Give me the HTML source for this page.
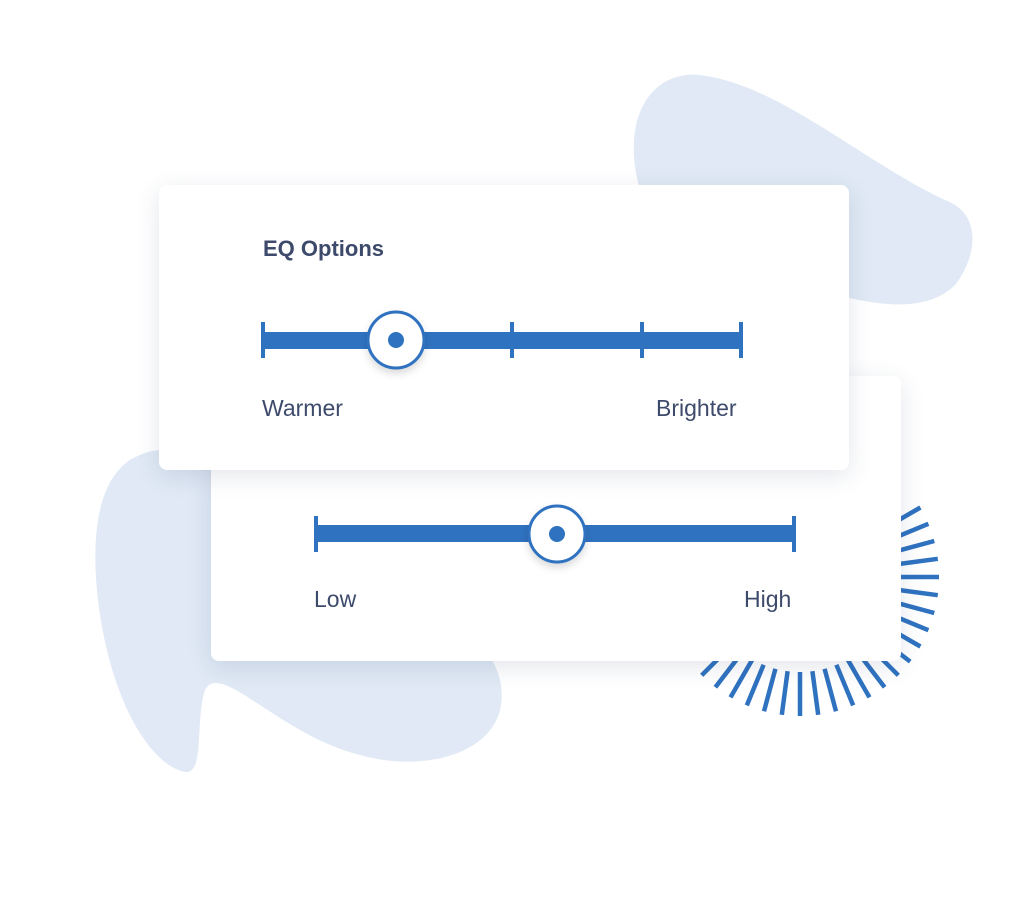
<!DOCTYPE html>
<html><head><style>
body{margin:0;width:1024px;height:909px;background:#fff;position:relative;overflow:hidden;font-family:"Liberation Sans",sans-serif}
.card{position:absolute;background:#fff;border-radius:8px;box-shadow:0 6px 24px rgba(40,60,100,0.13)}
.t{position:absolute;color:#3d4a6b;font-size:23px}
</style></head><body>
<svg width="1024" height="909" style="position:absolute;left:0;top:0">
<path d="M640,190 C620,120 650,70 700,75 C780,85 860,160 945,200 C985,215 975,260 955,285 C925,315 870,305 820,290 C740,265 660,250 640,190 Z" fill="#e0e9f5"/>
<path d="M130,460 C180,430 230,470 280,520 C350,590 480,600 500,680 C515,750 430,775 360,755 C280,735 220,660 205,690 C195,720 205,775 185,772 C150,765 110,700 98,600 C90,530 100,480 130,460 Z" fill="#e0e9f5"/>
<g stroke="#2f72c0" stroke-width="4.5">
<line x1="882.3" y1="529.5" x2="920.4" y2="507.5"/>
<line x1="887.8" y1="540.6" x2="928.4" y2="523.8"/>
<line x1="891.8" y1="552.4" x2="934.3" y2="541"/>
<line x1="894.2" y1="564.6" x2="937.8" y2="558.8"/>
<line x1="895" y1="577" x2="939" y2="577"/>
<line x1="894.2" y1="589.4" x2="937.8" y2="595.2"/>
<line x1="891.8" y1="601.6" x2="934.3" y2="613"/>
<line x1="887.8" y1="613.4" x2="928.4" y2="630.2"/>
<line x1="882.3" y1="624.5" x2="920.4" y2="646.5"/>
<line x1="875.4" y1="634.9" x2="910.2" y2="661.6"/>
<line x1="867.2" y1="644.2" x2="898.3" y2="675.3"/>
<line x1="857.9" y1="652.4" x2="884.6" y2="687.2"/>
<line x1="847.5" y1="659.3" x2="869.5" y2="697.4"/>
<line x1="836.4" y1="664.8" x2="853.2" y2="705.4"/>
<line x1="824.6" y1="668.8" x2="836" y2="711.3"/>
<line x1="812.4" y1="671.2" x2="818.2" y2="714.8"/>
<line x1="800" y1="672" x2="800" y2="716"/>
<line x1="787.6" y1="671.2" x2="781.8" y2="714.8"/>
<line x1="775.4" y1="668.8" x2="764" y2="711.3"/>
<line x1="763.6" y1="664.8" x2="746.8" y2="705.4"/>
<line x1="752.5" y1="659.3" x2="730.5" y2="697.4"/>
<line x1="742.1" y1="652.4" x2="715.4" y2="687.2"/>
<line x1="732.8" y1="644.2" x2="701.7" y2="675.3"/>
</g></svg>
<div class="card" style="left:211px;top:376px;width:690px;height:285px"></div>
<div class="card" style="left:159px;top:185px;width:690px;height:285px"></div>
<svg width="1024" height="909" style="position:absolute;left:0;top:0">
<defs><filter id="s" x="-50%" y="-50%" width="200%" height="200%"><feDropShadow dx="0" dy="4" stdDeviation="4" flood-color="#000" flood-opacity="0.15"/></filter></defs>
<g fill="#2f72c0">
<rect x="263" y="332" width="478" height="17"/>
<rect x="261" y="322" width="4" height="36"/><rect x="739" y="322" width="4" height="36"/>
<rect x="510" y="322" width="4" height="36"/><rect x="640" y="322" width="4" height="36"/>
<rect x="316" y="525" width="478" height="17"/>
<rect x="314" y="516" width="4" height="36"/><rect x="792" y="516" width="4" height="36"/>
</g>
<circle cx="396" cy="340" r="28" fill="#fff" stroke="#2f72c0" stroke-width="3" filter="url(#s)"/>
<circle cx="396" cy="340" r="8" fill="#2f72c0"/>
<circle cx="557" cy="534" r="28" fill="#fff" stroke="#2f72c0" stroke-width="3" filter="url(#s)"/>
<circle cx="557" cy="534" r="8" fill="#2f72c0"/>
</svg>
<div class="t" style="left:263px;top:236px;font-weight:bold;font-size:22px">EQ Options</div>
<div class="t" style="left:262px;top:395px">Warmer</div>
<div class="t" style="left:656px;top:395px">Brighter</div>
<div class="t" style="left:314px;top:586px">Low</div>
<div class="t" style="left:744px;top:586px">High</div>
</body></html>
